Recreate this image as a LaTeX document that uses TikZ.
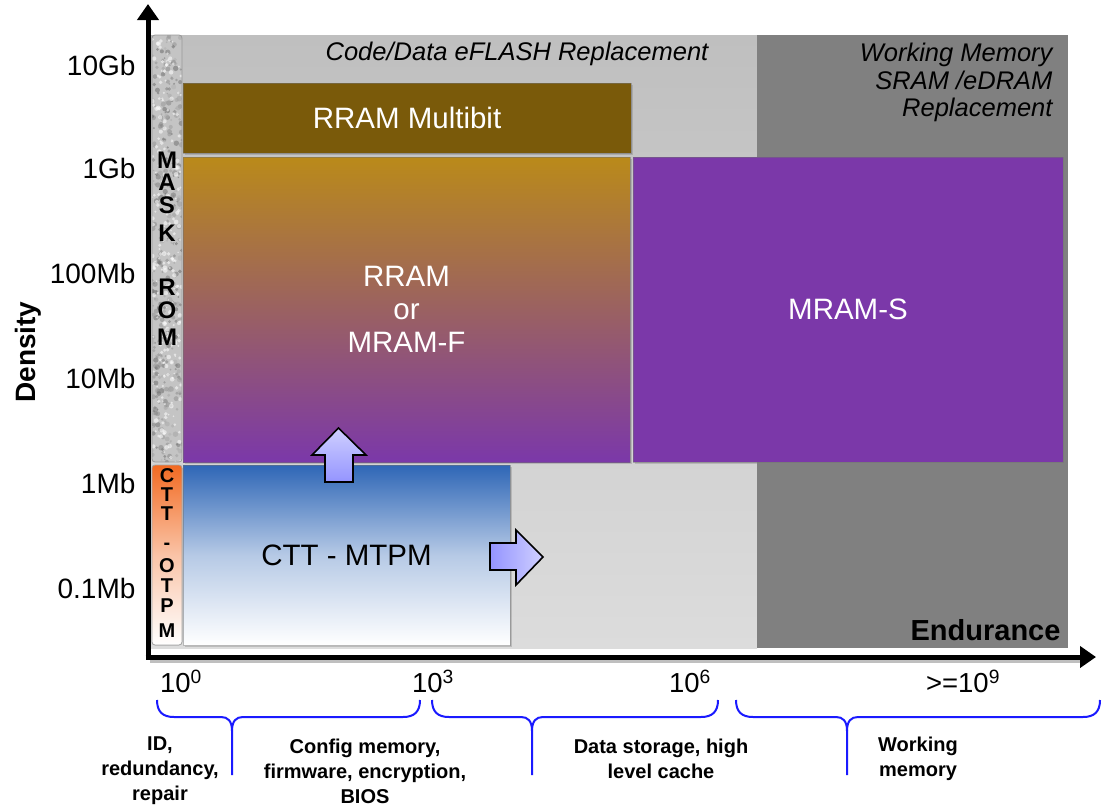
\documentclass[tikz,border=0pt]{standalone}
\usepackage{fontspec}
\setmainfont{Liberation Sans}
\usetikzlibrary{arrows.meta,shadows}
\definecolor{ltgrayTop}{HTML}{BFBFBF}
\definecolor{ltgrayBot}{HTML}{DCDCDC}
\definecolor{dkgray}{HTML}{808080}
\definecolor{brownA}{HTML}{7A5A0A}
\definecolor{goldA}{HTML}{BA8A1A}
\definecolor{purpA}{HTML}{7B38A9}
\definecolor{blueA}{HTML}{2E66B6}
\definecolor{orangeA}{HTML}{F26A22}
\definecolor{arrowA}{HTML}{9494FF}
\definecolor{arrowB}{HTML}{D0D0FF}
\definecolor{braceA}{HTML}{1A1AFF}
\definecolor{maskA}{HTML}{C4C4C4}
\newcommand\drawbrace[3]{%
 \draw[bracestyle] (#1,700) .. controls (#1,712) and (#1+6,717) .. (#1+17,717) -- (#2-11,717) .. controls (#2-4,717) and (#2,721) .. (#2,731) -- (#2,775);
 \draw[bracestyle] (#3,700) .. controls (#3,712) and (#3-6,717) .. (#3-17,717) -- (#2+11,717) .. controls (#2+4,717) and (#2,721) .. (#2,731);
}
\tikzset{
 box/.style={rectangle, inner sep=0pt, draw=black!55, draw opacity=0.5, line width=0.8pt, drop shadow={shadow xshift=1.5pt, shadow yshift=-1.5pt, opacity=0.35}},
 boxtxt/.style={font=\fontsize{29.5}{33}\selectfont, text=white, align=center},
 ylab/.style={anchor=east, font=\fontsize{28}{30}\selectfont},
 xlab/.style={font=\fontsize{27.5}{30}\selectfont},
 botlab/.style={font=\bfseries\fontsize{20}{25}\selectfont, align=center},
 toplab/.style={font=\itshape\fontsize{25.5}{27.5}\selectfont},
 colletter/.style={font=\bfseries\fontsize{24}{24}\selectfont, inner sep=0pt},
 colletterS/.style={font=\bfseries\fontsize{20}{20}\selectfont, inner sep=0pt},
 axis/.style={line width=5pt, -{Triangle[width=21pt,length=16pt]}},
 axisshadow/.style={line width=5pt, draw=black!25},
 bigarrow/.style={draw=black, line width=1.6pt, line join=miter},
 bracestyle/.style={draw=braceA, line width=2pt},
}
\begin{document}
\begin{tikzpicture}[x=1pt,y=-1pt]
\useasboundingbox (0,0) rectangle (1102,811);
% backgrounds
\fill[top color=ltgrayTop, bottom color=ltgrayBot] (150,35) rectangle (757,648);
\fill[dkgray] (757,35) rectangle (1068,648);
% mask rom column
\begin{scope}
\clip[rounded corners=3pt] (152,35) rectangle (182,462);
\fill[maskA] (152,35) rectangle (182,462);
\pgfmathsetseed{7}
\foreach \i in {1,...,380}{
  \pgfmathsetmacro\px{152+30*rnd}
  \pgfmathsetmacro\py{35+427*rnd}
  \pgfmathsetmacro\sh{int(30+30*rnd)}
  \pgfmathsetmacro\rr{0.8+2*rnd}
  \fill[black!\sh!white, opacity=0.55] (\px,\py) circle (\rr pt);
}
\foreach \i in {1,...,220}{
  \pgfmathsetmacro\px{152+30*rnd}
  \pgfmathsetmacro\py{35+427*rnd}
  \pgfmathsetmacro\rr{0.8+1.6*rnd}
  \fill[white, opacity=0.55] (\px,\py) circle (\rr pt);
}
\end{scope}
\draw[black!40, line width=0.8pt, rounded corners=3pt] (152,35) rectangle (182,462);
% CTT-OTPM column
\fill[top color=orangeA, bottom color=white, middle color=orangeA!40!white, rounded corners=3pt, draw=black!35, line width=0.8pt] (152,465) rectangle (182,645);
\foreach \l/\yy in {M/160,A/182,S/205,K/233,R/287,O/310,M/337}
  \node[colletter] (mr\yy) at (167,\yy) {\l};
\foreach \l/\yy in {C/476,T/495,T/514,-/546,O/566,T/586,P/606,M/631}
  \node[colletterS] (ct\yy) at (167,\yy) {\l};
% boxes
\node[box, fill=brownA, minimum width=448pt, minimum height=70pt, boxtxt] (multi) at (407,118) {RRAM Multibit};
\node[box, top color=goldA, bottom color=purpA, minimum width=447pt, minimum height=305pt, boxtxt] (rram) at (406.5,309.5) {RRAM\\or\\MRAM-F};
\node[box, fill=purpA, minimum width=430pt, minimum height=305pt, boxtxt] (mrams) at (848,309.5) {MRAM-S};
\node[box, top color=blueA, bottom color=white, middle color=blueA!35!white, minimum width=327pt, minimum height=180pt, boxtxt, text=black] (ctt) at (346.5,555) {CTT - MTPM};
% block arrows
\draw[bigarrow, bottom color=arrowA, top color=arrowB] (325,482) -- (325,455) -- (312,455) -- (338.5,428) -- (366,455) -- (353,455) -- (353,482) -- cycle;
\draw[bigarrow, left color=arrowA, right color=arrowB] (490,543) -- (516,543) -- (516,530) -- (543,557) -- (516,585) -- (516,570) -- (490,570) -- cycle;
% axes
\coordinate (origin) at (148,657);
\coordinate (ytip) at (148,4);
\coordinate (xtip) at (1096,657);
\coordinate (origS) at (150,660);
\coordinate (xS) at (1080,660);
\draw[axisshadow] (origS) -- (xS);
\draw[axis] (origin) -- (ytip);
\draw[axis] ([xshift=-2.5pt]origin) -- (xtip);
% y labels
\node[ylab] (l10g) at (139,65) {10Gb};
\node[ylab] (l1g) at (139,168) {1Gb};
\node[ylab] (l100m) at (139,273) {100Mb};
\node[ylab] (l10m) at (139,378) {10Mb};
\node[ylab] (l1m) at (139,483) {1Mb};
\node[ylab] (l01m) at (139,588) {0.1Mb};
\node[rotate=90, font=\bfseries\fontsize{28}{30}\selectfont] (dens) at (28,352) {Density};
% top labels
\node[toplab] (code) at (517,54) {Code/Data eFLASH Replacement};
\node[toplab, anchor=east, align=right] (workm) at (1056,82.5) {Working Memory\\SRAM /eDRAM\\Replacement};
\node[anchor=east, font=\bfseries\fontsize{29}{30}\selectfont] (endur) at (1064,630) {Endurance};
% x labels
\node[xlab] (x0) at (181,681) {10\textsuperscript{0}};
\node[xlab] (x3) at (433,681) {10\textsuperscript{3}};
\node[xlab] (x6) at (690,681) {10\textsuperscript{6}};
\node[xlab] (x9) at (963,681) {>=10\textsuperscript{9}};
% braces
\drawbrace{157}{232}{420}
\drawbrace{432}{532}{718}
\drawbrace{736}{847}{1100}
% bottom labels
\node[botlab] (idl) at (160,771) {ID,\\redundancy,\\repair};
\node[botlab] (cfg) at (365,771) {Config memory,\\firmware, encryption,\\BIOS};
\node[botlab] (dat) at (661,758.5) {Data storage, high\\level cache};
\node[botlab] (wrk) at (918,758.5) {Working\\memory};
\end{tikzpicture}
\end{document}
